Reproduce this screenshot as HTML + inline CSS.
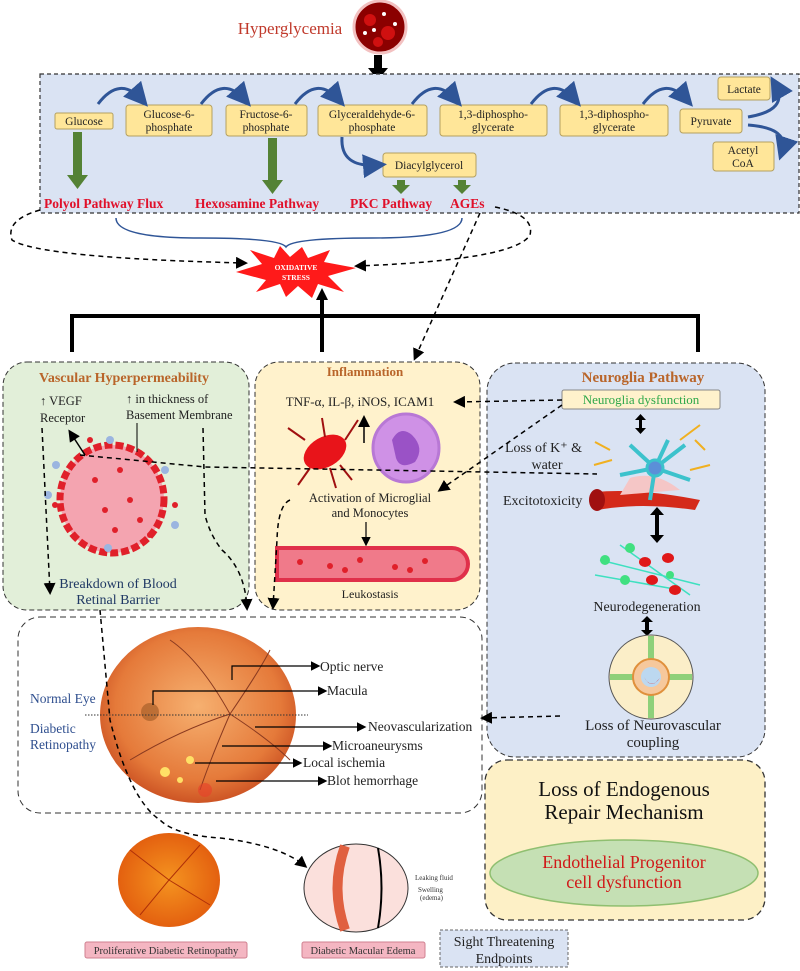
<!DOCTYPE html>
<html><head><meta charset="utf-8"><style>
body{margin:0;background:#fff}
svg{display:block;font-family:"Liberation Serif",serif}
</style></head><body>
<svg width="800" height="971" viewBox="0 0 800 971" xmlns="http://www.w3.org/2000/svg">
<defs>
<marker id="ab" markerWidth="8" markerHeight="8" refX="6" refY="4" orient="auto"><path d="M0,0L8,4L0,8z" fill="#000"/></marker>
<marker id="abl" markerWidth="8" markerHeight="8" refX="5" refY="4" orient="auto"><path d="M0,0L8,4L0,8z" fill="#2f5597"/></marker>
</defs>
<!-- Hyperglycemia -->
<text x="290" y="34" font-size="17" fill="#c0392b" text-anchor="middle">Hyperglycemia</text>
<circle cx="380" cy="27" r="26" fill="#8b0000" stroke="#f3c1c1" stroke-width="3"/>
<circle cx="370" cy="20" r="6" fill="#d01010"/><circle cx="388" cy="33" r="7" fill="#d01010"/><circle cx="378" cy="42" r="5" fill="#d01010"/>
<circle cx="365" cy="33" r="2" fill="#fff"/><circle cx="384" cy="14" r="2" fill="#fff"/><circle cx="395" cy="24" r="2" fill="#fff"/><circle cx="374" cy="30" r="2" fill="#fff"/>
<rect x="374" y="55" width="8" height="14" fill="#000"/><path d="M368,68L388,68L378,80z" fill="#000"/>
<!-- blue box -->
<rect x="40" y="74" width="759" height="139" fill="#dae3f3" stroke="#333" stroke-dasharray="4,3" stroke-width="1.2"/>
<g fill="#ffe699" stroke="#b4a060" stroke-width="1" font-size="11.5" text-anchor="middle">
<rect x="55" y="113" width="58" height="16" rx="2"/><rect x="126" y="105" width="86" height="31" rx="3"/>
<rect x="226" y="105" width="81" height="31" rx="3"/><rect x="318" y="105" width="109" height="31" rx="3"/>
<rect x="440" y="105" width="107" height="31" rx="3"/><rect x="560" y="105" width="108" height="31" rx="3"/>
<rect x="680" y="109" width="62" height="24" rx="3"/><rect x="718" y="77" width="52" height="23" rx="3"/>
<rect x="713" y="142" width="61" height="29" rx="3"/><rect x="383" y="153" width="93" height="24" rx="3"/>
</g>
<g font-size="11.5" text-anchor="middle" fill="#222">
<text x="84" y="125">Glucose</text><text x="169" y="118">Glucose-6-</text><text x="169" y="131">phosphate</text>
<text x="266" y="118">Fructose-6-</text><text x="266" y="131">phosphate</text>
<text x="372" y="118">Glyceraldehyde-6-</text><text x="372" y="131">phosphate</text>
<text x="493" y="118">1,3-diphospho-</text><text x="493" y="131">glycerate</text>
<text x="614" y="118">1,3-diphospho-</text><text x="614" y="131">glycerate</text>
<text x="711" y="125">Pyruvate</text><text x="744" y="93">Lactate</text>
<text x="743" y="154">Acetyl</text><text x="743" y="167">CoA</text><text x="429" y="169">Diacylglycerol</text>
</g>
<g fill="none" stroke="#2f5597" stroke-width="3" marker-end="url(#abl)">
<path d="M98,104Q120,75 142,100"/><path d="M201,104Q223,75 245,100"/><path d="M295,104Q317,75 339,100"/>
<path d="M412,104Q434,75 456,100"/><path d="M531,104Q553,75 575,100"/><path d="M643,104Q665,75 687,100"/>
<path d="M342,137Q340,168 378,165"/><path d="M748,117Q790,110 775,84"/><path d="M748,125Q790,128 782,152"/>
</g>
<g fill="#548235">
<rect x="73" y="132" width="9" height="44"/><path d="M67,175L88,175L77.5,189z"/>
<rect x="268" y="138" width="9" height="43"/><path d="M262,180L283,180L272.5,194z"/>
<rect x="397" y="180" width="8" height="6"/><path d="M392,185L410,185L401,194z"/>
<rect x="458" y="180" width="8" height="6"/><path d="M453,185L471,185L462,194z"/>
</g>
<g font-size="13.5" font-weight="bold" fill="#e0102a">
<text x="44" y="208">Polyol Pathway Flux</text><text x="195" y="208">Hexosamine Pathway</text>
<text x="350" y="208">PKC Pathway</text><text x="450" y="208">AGEs</text>
</g>
<path d="M116,218Q116,238 200,238Q280,238 286,247Q292,238 372,238Q462,238 462,218" fill="none" stroke="#2f5597" stroke-width="1.5"/>
<!-- dashed ellipse -->
<g fill="none" stroke="#000" stroke-width="1.5" stroke-dasharray="5,4">
<path d="M40,210Q5,220 12,240Q40,258 245,263" marker-end="url(#ab)"/>
<path d="M495,207Q535,215 530,235Q515,260 357,266" marker-end="url(#ab)"/>
<path d="M480,213L415,358" marker-end="url(#ab)"/>
</g>
<!-- star -->
<path d="M236,272L262,264L250,250L274,258L280,246L290,257L302,247L308,258L330,250L324,262L356,268L328,276L344,292L318,284L312,298L298,286L286,297L280,284L256,292L266,280z" fill="#ff1a1a"/>
<text x="296" y="270" font-size="7.5" fill="#fff" text-anchor="middle" font-weight="bold">OXIDATIVE</text>
<text x="296" y="280" font-size="7.5" fill="#fff" text-anchor="middle" font-weight="bold">STRESS</text>
<!-- black bar -->
<g stroke="#000" stroke-width="4"><path d="M72,316L698,316M72,314L72,352M322,316L322,352M698,314L698,352M322,316L322,298"/></g>
<path d="M316,300L328,300L322,288z" fill="#000"/>
<!-- boxes -->
<rect x="3" y="362" width="246" height="248" rx="24" fill="#e2efd9" stroke="#333" stroke-dasharray="5,3"/>
<rect x="255" y="362" width="225" height="248" rx="24" fill="#fff2cc" stroke="#333" stroke-dasharray="5,3"/>
<rect x="487" y="363" width="278" height="394" rx="28" fill="#dae3f3" stroke="#333" stroke-dasharray="5,3"/>
<rect x="18" y="617" width="464" height="196" rx="22" fill="#fff" stroke="#333" stroke-dasharray="6,4"/>
<rect x="485" y="760" width="280" height="160" rx="22" fill="#fdf0c6" stroke="#333" stroke-dasharray="6,4" stroke-width="1.3"/>
<!-- vascular -->
<text x="124" y="382" font-size="14" font-weight="bold" fill="#b9652a" text-anchor="middle">Vascular Hyperpermeability</text>
<g font-size="12.5" fill="#222"><text x="40" y="405">↑ VEGF</text><text x="40" y="422">Receptor</text>
<text x="126" y="403">↑ in thickness of</text><text x="126" y="419">Basement Membrane</text></g>
<ellipse cx="112" cy="499" rx="52" ry="54" fill="#f4a4b0" stroke="#e0202a" stroke-width="7" stroke-dasharray="8,3"/>
<g fill="#e0202a"><circle cx="95" cy="480" r="3"/><circle cx="120" cy="470" r="3"/><circle cx="105" cy="510" r="3"/><circle cx="130" cy="500" r="3"/><circle cx="115" cy="530" r="3"/><circle cx="140" cy="520" r="3"/><circle cx="90" cy="440" r="3"/><circle cx="55" cy="505" r="3"/><circle cx="175" cy="505" r="3"/><circle cx="150" cy="535" r="3"/></g>
<g fill="#9bb5e0"><circle cx="110" cy="440" r="4"/><circle cx="56" cy="465" r="4"/><circle cx="165" cy="470" r="4"/><circle cx="108" cy="548" r="4"/><circle cx="48" cy="495" r="4"/><circle cx="175" cy="525" r="4"/></g>
<path d="M137,423L137,452" stroke="#000"/>
<path d="M85,455L70,432" stroke="#000" stroke-width="1.5" marker-end="url(#ab)"/>
<text x="118" y="588" font-size="14" fill="#1f3864" text-anchor="middle">Breakdown of Blood</text>
<text x="118" y="604" font-size="14" fill="#1f3864" text-anchor="middle">Retinal Barrier</text>
<!-- inflammation -->
<text x="365" y="376" font-size="13" font-weight="bold" fill="#b9652a" text-anchor="middle">Inflammation</text>
<text x="360" y="406" font-size="13" fill="#222" text-anchor="middle">TNF-α, IL-β, iNOS, ICAM1</text>
<ellipse cx="325" cy="452" rx="23" ry="15" fill="#e8141a" transform="rotate(-30 325 452)"/>
<g stroke="#a01010" stroke-width="2"><path d="M305,440L288,428M345,440L358,420M340,465L352,480M310,468L298,485M325,437L322,418M330,468L336,488"/></g>
<path d="M364,443L364,418" stroke="#000" stroke-width="1.5" marker-end="url(#ab)"/>
<ellipse cx="406" cy="448" rx="33" ry="34" fill="#cf91e6" stroke="#b878d5" stroke-width="3"/>
<path d="M392,440Q400,425 412,435Q425,448 415,462Q400,470 396,458" fill="#9a52c6"/>
<text x="370" y="502" font-size="12.5" fill="#222" text-anchor="middle">Activation of Microglial</text>
<text x="370" y="517" font-size="12.5" fill="#222" text-anchor="middle">and Monocytes</text>
<path d="M366,522L366,544" stroke="#000" stroke-width="1.2" marker-end="url(#ab)"/>
<path d="M277,548L452,548A16,16 0 0 1 452,580L277,580z" fill="#f07a8a" stroke="#e0304a" stroke-width="4"/>
<g fill="#e0202a"><circle cx="300" cy="562" r="3"/><circle cx="330" cy="566" r="3"/><circle cx="360" cy="560" r="3"/><circle cx="395" cy="567" r="3"/><circle cx="425" cy="561" r="3"/><circle cx="345" cy="570" r="3"/><circle cx="410" cy="570" r="3"/></g>
<text x="370" y="598" font-size="12" fill="#222" text-anchor="middle">Leukostasis</text>
<!-- neuroglia -->
<text x="643" y="382" font-size="15" font-weight="bold" fill="#b9652a" text-anchor="middle">Neuroglia Pathway</text>
<rect x="562" y="390" width="158" height="19" rx="2" fill="#fff2cc" stroke="#888"/>
<text x="641" y="404" font-size="13" fill="#2ea84a" text-anchor="middle">Neuroglia dysfunction</text>
<g fill="#000"><rect x="639" y="419" width="3" height="10"/><path d="M635,420L646,420L640.5,414zM635,428L646,428L640.5,434z"/>
<rect x="655" y="513" width="4" height="24"/><path d="M650,515L664,515L657,507zM650,535L664,535L657,543z"/>
<rect x="645" y="620" width="4" height="12"/><path d="M641,622L653,622L647,616zM641,630L653,630L647,636z"/></g>
<g stroke="#f0b020" stroke-width="2" fill="none"><path d="M610,450l-15,-8M612,460l-18,5M680,440l20,-15M690,470l20,-5M695,440l10,10"/></g>
<path d="M595,492Q640,488 700,500L695,510Q640,502 598,510z" fill="#d42a1a"/>
<ellipse cx="597" cy="500" rx="8" ry="11" fill="#a01010"/>
<path d="M630,478Q655,470 680,490L620,495z" fill="#f5c6c6"/>
<g stroke="#3cc2cc" stroke-width="4" fill="none"><path d="M655,468L630,445M655,468L685,445M655,468L620,475M655,468L690,480M655,468L650,500M655,468L668,440"/></g>
<circle cx="655" cy="468" r="8" fill="#5b8fd8" stroke="#3cc2cc" stroke-width="3"/>
<g font-size="14" fill="#222"><text x="505" y="452">Loss of K⁺ &amp;</text><text x="547" y="469" text-anchor="middle">water</text><text x="503" y="505">Excitotoxicity</text></g>
<g stroke="#3ee0c0" stroke-width="1.5"><path d="M600,560L700,585M620,545L690,595M595,575L680,590"/></g>
<g fill="#40e080"><circle cx="605" cy="560" r="5"/><circle cx="630" cy="548" r="5"/><circle cx="625" cy="580" r="5"/><circle cx="670" cy="575" r="4"/></g>
<g fill="#e01818"><ellipse cx="645" cy="562" rx="6" ry="5"/><ellipse cx="668" cy="558" rx="6" ry="5"/><ellipse cx="652" cy="580" rx="6" ry="5"/><ellipse cx="675" cy="590" rx="6" ry="5"/></g>
<text x="647" y="611" font-size="14" fill="#222" text-anchor="middle">Neurodegeneration</text>
<circle cx="651" cy="677" r="42" fill="#fbeec8" stroke="#555"/>
<g stroke="#8ed07a" stroke-width="6"><path d="M651,636L651,718M610,677L692,677"/></g>
<circle cx="651" cy="677" r="18" fill="#f6c89c" stroke="#e0903c" stroke-width="2"/>
<circle cx="651" cy="677" r="10" fill="#bcd8f0"/><path d="M644,677Q651,690 660,678L655,683Q650,686 646,680z" fill="#e01010"/>
<text x="653" y="730" font-size="15" fill="#222" text-anchor="middle">Loss of Neurovascular</text>
<text x="653" y="747" font-size="15" fill="#222" text-anchor="middle">coupling</text>
<!-- loss endogenous -->
<text x="624" y="796" font-size="21" fill="#111" text-anchor="middle">Loss of Endogenous</text>
<text x="624" y="819" font-size="21" fill="#111" text-anchor="middle">Repair Mechanism</text>
<ellipse cx="624" cy="873" rx="134" ry="33" fill="#c5e0b4" stroke="#8fbf70" stroke-width="1.5"/>
<text x="624" y="868" font-size="18" fill="#d01818" text-anchor="middle">Endothelial Progenitor</text>
<text x="624" y="888" font-size="18" fill="#d01818" text-anchor="middle">cell dysfunction</text>
<!-- eye -->
<defs><radialGradient id="eg" cx="0.5" cy="0.45" r="0.6"><stop offset="0" stop-color="#f6b070"/><stop offset="0.7" stop-color="#e57a3a"/><stop offset="1" stop-color="#c4461c"/></radialGradient>
<radialGradient id="og" cx="0.5" cy="0.5" r="0.6"><stop offset="0" stop-color="#f59420"/><stop offset="1" stop-color="#e0560c"/></radialGradient></defs>
<ellipse cx="198" cy="715" rx="98" ry="88" fill="url(#eg)"/>
<circle cx="150" cy="712" r="9" fill="#a8602a" opacity="0.7"/>
<g stroke="#8a3a20" stroke-width="1" fill="none"><path d="M230,714Q200,660 170,640M230,714Q260,670 270,650M230,714Q210,760 200,790M230,714Q270,740 290,760M230,714Q180,730 130,760"/></g>
<g fill="#ffe066"><circle cx="165" cy="772" r="5"/><circle cx="190" cy="760" r="4"/><circle cx="180" cy="780" r="3"/></g>
<circle cx="205" cy="790" r="7" fill="#e8402a" opacity="0.6"/>
<path d="M85,715L308,715" stroke="#333" stroke-dasharray="1.5,1.5"/>
<g stroke="#000" stroke-width="1.2" fill="none" marker-end="url(#ab)">
<path d="M232,680L232,666L318,666"/><path d="M153,705L153,691L325,691"/><path d="M255,727L364,727"/><path d="M222,746L330,746"/><path d="M195,763L300,763"/><path d="M216,781L325,781"/>
</g>
<g font-size="13.5" fill="#222"><text x="320" y="671">Optic nerve</text><text x="327" y="695">Macula</text><text x="368" y="731">Neovascularization</text><text x="332" y="750">Microaneurysms</text><text x="303" y="767">Local ischemia</text><text x="327" y="785">Blot hemorrhage</text></g>
<g font-size="13.5" fill="#2f4f8f"><text x="30" y="703">Normal Eye</text><text x="30" y="733">Diabetic</text><text x="30" y="749">Retinopathy</text></g>
<!-- bottom -->
<ellipse cx="169" cy="880" rx="51" ry="47" fill="url(#og)"/>
<g stroke="#b03008" fill="none"><path d="M169,880L130,850M169,880L200,845M169,880L140,915M169,880L210,905"/></g>
<ellipse cx="356" cy="888" rx="52" ry="44" fill="#fbe0dc" stroke="#333"/>
<path d="M345,846Q330,888 345,930" fill="none" stroke="#e06040" stroke-width="10"/>
<path d="M378,848Q385,888 378,928" fill="none" stroke="#000" stroke-width="2"/>
<g font-size="7" fill="#333"><text x="415" y="880">Leaking fluid</text><text x="418" y="892">Swelling</text><text x="420" y="900">(edema)</text></g>
<rect x="85" y="942" width="162" height="16" rx="2" fill="#f4b6c2" stroke="#d08090"/>
<text x="166" y="954" font-size="10.5" fill="#333" text-anchor="middle">Proliferative Diabetic Retinopathy</text>
<rect x="302" y="942" width="123" height="16" rx="2" fill="#f4b6c2" stroke="#d08090"/>
<text x="363" y="954" font-size="10.5" fill="#333" text-anchor="middle">Diabetic Macular Edema</text>
<rect x="440" y="930" width="128" height="37" fill="#dae3f3" stroke="#666" stroke-dasharray="3,2"/>
<text x="504" y="946" font-size="14" fill="#222" text-anchor="middle">Sight Threatening</text>
<text x="504" y="963" font-size="14" fill="#222" text-anchor="middle">Endpoints</text>
<!-- dashed connectors -->
<g fill="none" stroke="#000" stroke-width="1.5" stroke-dasharray="5,4">
<path d="M42,428L50,592" marker-end="url(#ab)"/>
<path d="M203,428L205,515Q210,535 222,550Q245,570 247,608" marker-end="url(#ab)"/>
<path d="M80,455L205,467L597,474"/>
<path d="M562,400L456,402" marker-end="url(#ab)"/>
<path d="M562,405L440,490" marker-end="url(#ab)"/>
<path d="M290,500Q278,505 277,540L273,607" marker-end="url(#ab)"/>
<path d="M560,716L483,718" marker-end="url(#ab)"/>
<path d="M100,610L110,720Q130,800 160,820Q175,835 220,838Q280,845 305,866" marker-end="url(#ab)"/>
</g>
</svg>
</body></html>
